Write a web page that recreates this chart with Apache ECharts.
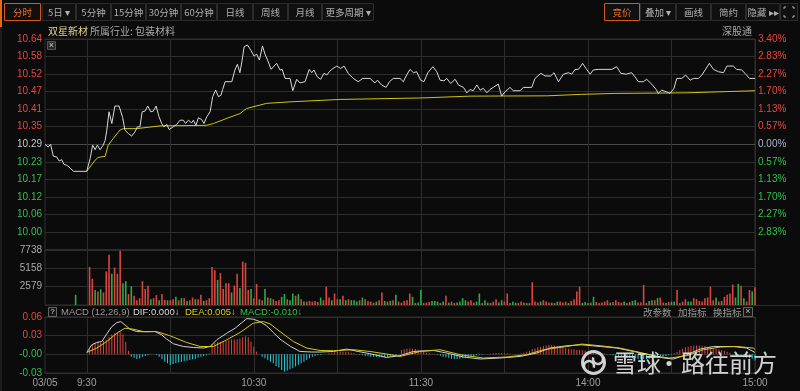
<!DOCTYPE html>
<html><head><meta charset="utf-8">
<script src="https://cdn.jsdelivr.net/npm/echarts@6/dist/echarts.min.js"></script>
<style>html,body{margin:0;padding:0;background:#0b0b0b;}#c{width:800px;height:391px;}</style>
</head><body><div id="c"></div>
<script>
// ---------- data ----------
const basePrice = 10.29;
const priceStep = 0.35 / 6;
const priceTicks = ['', '10.00', '10.06', '10.12', '10.17', '10.23', '10.29', '10.35', '10.41', '10.47', '10.52', '10.58', '10.64'];
const pctTicks = ['', '2.83%', '2.27%', '1.70%', '1.13%', '0.57%', '0.00%', '0.57%', '1.13%', '1.70%', '2.27%', '2.83%', '3.40%'];
const volTicks = ['', '2579', '5158', '7738'];
const macdTicks = ['-0.03', '-0.00', '0.03', '0.06'];
const timeTickAt = [-15, 0, 60, 120, 180, 240];
const timeTickText = ['03/05', '9:30', '10:30', '11:30', '14:00', '15:00'];

// [minutes from 9:30, price]
const pricePts = [[-15,10.289],[-13.8,10.281],[-13,10.290],[-12,10.250],[-10.8,10.248],[-9.9,10.234],[-9,10.239],[-8.2,10.223],[-7.2,10.220],[-6,10.212],[-4.8,10.200],[0,10.200],
[1.2,10.242],[2.1,10.287],[3,10.272],[3.8,10.287],[4.8,10.272],[5.9,10.287],[6.6,10.303],[7.2,10.337],[8,10.398],[9,10.359],[10.1,10.417],[11.6,10.417],[12.9,10.379],[13.7,10.337],[14.9,10.326],[16.1,10.317],[17.3,10.331],[18.2,10.348],[19.1,10.348],[19.9,10.398],[20.9,10.400],[21.9,10.417],[23,10.398],[23.9,10.400],[24.9,10.417],[25.9,10.383],[26.9,10.359],[27.7,10.348],[28.7,10.356],[29.6,10.339],[31.1,10.348],[32.3,10.356],[33.5,10.370],[34.7,10.370],[35.5,10.359],[36.5,10.370],[37.7,10.361],[38.3,10.370],[39.2,10.353],[40.1,10.378],[41.3,10.372],[42.1,10.359],[43.1,10.381],[44.3,10.398],[45.2,10.448],[46.3,10.470],[47.3,10.448],[48.2,10.453],[48.8,10.472],[49.7,10.498],[52.1,10.498],[53.2,10.537],[54.1,10.556],[55,10.528],[55.7,10.564],[56.5,10.614],[57.7,10.620],[58.9,10.603],[60.1,10.583],[61,10.590],[62,10.570],[63.1,10.617],[64,10.590],[65.2,10.564],[66.2,10.539],[68.2,10.559],[69.4,10.537],[70.2,10.539],[71.2,10.509],[73,10.509],[74,10.468],[75.4,10.506],[76.6,10.494],[78.4,10.498],[79.9,10.539],[80.8,10.528],[81.6,10.537],[82.8,10.514],[84,10.506],[85.2,10.526],[86.2,10.520],[87.1,10.531],[88,10.539],[89.8,10.550],[91.2,10.542],[92.4,10.550],[93.9,10.526],[95.7,10.509],[97.5,10.498],[99.1,10.509],[101.7,10.509],[103.5,10.494],[104.4,10.503],[105.9,10.487],[107.5,10.479],[108.7,10.498],[110.1,10.509],[112.5,10.509],[113.7,10.498],[114.7,10.517],[116.1,10.539],[117.3,10.528],[118.5,10.531],[119.9,10.503],[121.1,10.498],[122.5,10.528],[124.3,10.548],[125.7,10.531],[126.9,10.503],[128.3,10.501],[129.3,10.509],[130.7,10.492],[132.3,10.506],[133.5,10.487],[135.3,10.479],[136.5,10.461],[137.7,10.472],[138.8,10.468],[140.1,10.487],[141.3,10.470],[142.4,10.476],[143.7,10.461],[144.8,10.472],[146,10.479],[147.8,10.490],[149,10.450],[150.2,10.464],[152,10.479],[153.2,10.468],[155.6,10.468],[156.8,10.479],[159.8,10.479],[161,10.509],[163.1,10.526],[164.6,10.517],[166.6,10.517],[167.8,10.528],[169.4,10.498],[171.2,10.523],[173,10.528],[174.2,10.523],[175.4,10.539],[176.6,10.539],[178.1,10.559],[179.3,10.542],[180.8,10.523],[181.9,10.537],[183.7,10.539],[188.6,10.539],[190.3,10.548],[191.8,10.526],[193.7,10.523],[195.7,10.528],[196.9,10.514],[198.1,10.498],[199.9,10.498],[201.1,10.506],[202.9,10.490],[204.5,10.472],[205.3,10.459],[206.5,10.470],[208.3,10.464],[209.5,10.459],[210.9,10.476],[211.9,10.509],[213.7,10.509],[215.1,10.520],[216.7,10.503],[217.9,10.509],[219.7,10.509],[220.9,10.520],[222.1,10.537],[223.6,10.559],[225.1,10.539],[226.9,10.531],[228.7,10.528],[229.9,10.550],[232.2,10.550],[233.4,10.539],[235.2,10.537],[236.4,10.526],[238,10.509],[240,10.509]];

const avgPts = [[0,10.200],[3,10.237],[4.1,10.246],[6.6,10.250],[7.7,10.287],[9.5,10.309],[11.9,10.337],[13.1,10.342],[17.9,10.342],[26.3,10.351],[43.1,10.353],[45.5,10.359],[50.3,10.376],[55,10.392],[57.4,10.409],[64.6,10.426],[73,10.431],[91,10.439],[120.3,10.444],[137.7,10.450],[165.2,10.451],[177.8,10.456],[189.7,10.459],[215.5,10.461],[240,10.468]];

// auction volume (9:26)
const preVol = [[-4, 1433]];
// volume per minute, minutes 1..240 after 9:30
const vol = [5354,3681,2103,1912,2199,1769,4732,7074,4398,5258,
4398,7648,3059,3346,1530,2629,1291,669,956,3346,
2247,2725,813,956,1386,669,1530,717,669,669,
813,1147,669,956,956,574,669,1052,813,813,
1434,574,669,956,5354,4876,3537,4493,2247,3059,
3059,1769,2725,4398,2390,6118,5927,2103,2247,956,
2964,813,669,2247,1052,956,813,574,669,1147,
1530,813,669,1625,1291,1530,813,478,478,574,
478,574,430,1052,669,2581,1052,669,1625,813,
813,1291,669,813,669,669,478,669,1052,813,
574,478,335,478,669,1769,574,478,574,669,
1434,478,
335,574,669,1625,1147,287,335,2103,287,335,
430,574,574,478,287,478,1291,335,478,287,
335,478,956,669,478,669,335,478,1625,287,
669,335,287,478,813,335,669,478,1625,287,
478,335,287,478,335,287,287,3203,478,335,
478,669,478,335,335,287,478,478,335,478,
287,574,813,1912,2581,287,430,287,335,1147,
430,287,335,478,669,335,430,669,430,335,
478,287,430,574,669,335,335,2820,287,574,
669,669,956,1052,335,287,430,478,478,2103,
287,478,813,478,478,956,813,574,478,956,
1052,2581,669,1052,478,574,1147,1434,1625,2868,
1052,2964,2725,956,478,2103,1912,2486];
// R = up minute, G = down minute
const volDir = 'RRGRGRRRGR' + 'RRGGRGRRRR' + 'RRGRRGRRGR' + 'RGRGRGRRGR' + 'RGRRRRGRRR' + 'RGRRGRRRGR' +
  'RGRGRGRRRG' + 'GRGGRGRGRR' + 'RRRGRRRGRR' + 'GRGRGGGRGR' + 'RRRGRRGRGR' + 'GR' +
  'RRRRGRGGRR' + 'RGGGRGRGRR' + 'GGGGRRRGGR' + 'GGRRRGGRRR' + 'GGRRRGRRRR' + 'GRRRGRGRRR' +
  'GRRRRGGRGG' + 'RRRRRGRRRR' + 'GRRGGRRRRG' + 'GRGRRGRGGR' + 'RRRGGRRRRR' + 'RRRGRGRRRR' + 'GGRGRRGR';

// MACD histogram per minute, minutes 1..240
const macdHist = [0.0080,0.0150,0.0188,0.0202,0.0188,0.0216,0.0240,0.0282,0.0320,0.0338,
0.0348,0.0362,0.0324,0.0202,0.0056,-0.0038,-0.0054,-0.0075,-0.0066,-0.0038,
-0.0028,-0.0016,0.0009,0.0005,-0.0009,-0.0038,-0.0080,-0.0118,-0.0144,-0.0169,
-0.0154,-0.0144,-0.0132,-0.0122,-0.0113,-0.0103,-0.0090,-0.0080,-0.0070,-0.0054,
-0.0038,-0.0028,-0.0016,0.0016,0.0165,0.0188,0.0197,0.0202,0.0207,0.0216,
0.0226,0.0240,0.0240,0.0240,0.0254,0.0273,0.0291,0.0273,0.0202,0.0122,
0.0042,0.0005,-0.0038,-0.0064,-0.0090,-0.0118,-0.0144,-0.0186,-0.0213,-0.0250,
-0.0277,-0.0261,-0.0240,-0.0224,-0.0197,-0.0169,-0.0144,-0.0118,-0.0090,-0.0064,
-0.0038,-0.0028,-0.0016,-0.0009,0,0.0005,0.0016,0.0026,0.0032,0.0042,
0.0047,0.0042,0.0038,0.0032,0.0026,0.0016,0.0005,-0.0006,-0.0016,-0.0028,
-0.0032,-0.0038,-0.0038,-0.0042,-0.0047,-0.0047,-0.0047,-0.0042,-0.0038,-0.0028,
-0.0016,0.0005,0.0070,0.0080,0.0090,0.0094,0.0090,0.0085,0.0075,0.0064,
0.0042,0.0026,0.0016,0.0010,0.0006,-0.0006,-0.0022,-0.0038,-0.0047,-0.0056,
-0.0070,-0.0075,-0.0075,-0.0070,-0.0064,-0.0056,-0.0047,-0.0038,-0.0028,-0.0016,
-0.0009,-0.0006,0,0.0006,0.0010,0.0016,0.0022,0.0022,0.0022,0.0016,
0.0016,0.0010,0.0006,0.0006,0.0010,0.0016,0.0026,0.0042,0.0056,0.0080,
0.0094,0.0113,0.0122,0.0132,0.0141,0.0150,0.0150,0.0141,0.0132,0.0122,
0.0113,0.0103,0.0090,0.0080,0.0080,0.0070,0.0070,0.0064,0.0056,0.0047,
0.0042,0.0038,0.0032,0.0026,0.0022,0.0016,0.0006,-0.0006,-0.0016,-0.0028,
-0.0038,-0.0042,-0.0047,-0.0054,-0.0056,-0.0064,-0.0064,-0.0070,-0.0070,-0.0075,
-0.0075,-0.0070,-0.0064,-0.0056,-0.0054,-0.0047,-0.0038,-0.0028,-0.0016,-0.0006,
0.0016,0.0038,0.0070,0.0090,0.0113,0.0122,0.0132,0.0138,0.0141,0.0141,
0.0138,0.0132,0.0122,0.0113,0.0103,0.0090,0.0080,0.0070,0.0056,0.0042,
0.0026,0.0006,-0.0009,-0.0028,-0.0038,-0.0047,-0.0056,-0.0064,-0.0070,-0.0100];

const difPts = [[0,0.003],[1.8,0.0154],[3.6,0.019],[5.4,0.0206],[7.2,0.033],[9,0.0446],[10.8,0.051],[12.2,0.0526],[13.7,0.0474],[15.5,0.0405],[17.9,0.0366],[21.5,0.0362],[24.5,0.0366],[26.9,0.0314],[28.7,0.0245],[31.1,0.017],[34.7,0.0126],[38.3,0.011],[41.9,0.0101],[44.3,0.0126],[46.7,0.0234],[50.3,0.034],[53.3,0.042],[55.7,0.051],[57.5,0.0574],[59.8,0.0565],[62.2,0.0526],[64.6,0.0458],[67,0.035],[69.4,0.0245],[73.2,0.0126],[76.6,0.0046],[80.8,0.0037],[83.8,0.0037],[88.6,0.0046],[93.4,0.0085],[97.5,0.0046],[101.7,0.001],[107.7,-0.005],[112.5,-0.0022],[117.3,0.0046],[124.5,0.0062],[129.3,0.0021],[135.3,-0.0043],[141.3,-0.0075],[148.4,-0.0059],[155.6,-0.0034],[161.6,0.0021],[166.4,0.0101],[172.4,0.0138],[177.8,0.0154],[184.4,0.0126],[190.4,0.0101],[196.3,0.0046],[202.3,-0.0006],[207.1,-0.0059],[210.7,-0.0075],[215.5,-0.0006],[220.3,0.0085],[225.1,0.0126],[232.2,0.0126],[237,0.0101],[240,0.003]];

const deaPts = [[0,0.003],[3.6,0.0101],[7.2,0.0206],[10.8,0.034],[13.7,0.042],[16.7,0.0405],[20.3,0.0366],[25.1,0.0366],[29.9,0.0298],[35.9,0.019],[40.7,0.0126],[45.5,0.0126],[50.3,0.0234],[55,0.035],[59.8,0.05],[63.4,0.0526],[65.8,0.049],[69.4,0.0366],[74.2,0.0206],[79,0.0101],[83.8,0.0062],[88.6,0.0058],[95.8,0.0074],[101.7,0.0046],[107.7,0.0005],[112.5,-0.0034],[119.7,0.0046],[126.9,0.0074],[134.1,-0.0006],[142.4,-0.0059],[150.8,-0.0043],[158,-0.0006],[164,0.0074],[172.4,0.0126],[177.8,0.0165],[184.4,0.0138],[191.5,0.0101],[198.7,0.003],[204.7,-0.0034],[209.5,-0.0059],[215.5,-0.0022],[221.5,0.0074],[227.5,0.0117],[233.5,0.0126],[239.4,0.0101],[240,0.008]];

// ---------- chart ----------
const RED = '#e8473f', GREEN = '#2fc24a';
const VRED = '#d9463e', VGREEN = '#27ae4a';
const GL = '#2d2d2d';
const NUMF = '"Liberation Sans", Arial, sans-serif';
const CJK = '"Noto Sans CJK SC", sans-serif';

const chart = echarts.init(document.getElementById('c'), null, {renderer: 'canvas'});

function xAxisFor(gi, showLabel) {
  return {
    type: 'value', gridIndex: gi, min: -15, max: 240, interval: 15,
    axisLine: {show: false}, axisTick: {show: false},
    axisLabel: {
      show: showLabel, margin: 5, color: '#a0a0a0', fontSize: 10, fontFamily: NUMF,
      formatter: v => { const i = timeTickAt.indexOf(Math.round(v)); return i >= 0 ? timeTickText[i] : ''; }
    },
    splitLine: {show: true, lineStyle: {color: ['rgba(0,0,0,0)', GL], width: 1}}
  };
}

const mainSplitColors = [];
for (let i = 0; i <= 12; i++) mainSplitColors.push(i === 6 ? '#4a4a4a' : GL);

const volData = preVol.map(([t, v]) => ({value: [t, v], itemStyle: {color: VGREEN}}))
  .concat(vol.map((v, i) => ({value: [i + 1, v], itemStyle: {color: volDir[i] === 'R' ? VRED : VGREEN}})));
const histData = macdHist.map((h, i) => ({value: [i + 1, h], itemStyle: {color: h >= 0 ? '#e0453e' : '#28ccd8'}}));
const toStep = p => (p - basePrice) / priceStep;

// ---------- decorations ----------
const g = [];
function txt(text, x, y, fill, size, font, align) {
  g.push({type: 'text', silent: true, z: 100, style: {text, x, y, fill, fontSize: size, fontFamily: font || CJK,
    align: align || 'left', verticalAlign: 'middle', textAlign: align || 'left', textVerticalAlign: 'middle'}});
}
function rect(x, y, w, h, fill, stroke) {
  g.push({type: 'rect', silent: true, z: 99, shape: {x, y, width: w, height: h}, style: {fill, stroke, lineWidth: 1}});
}
function line(x1, y1, x2, y2, stroke, w) {
  g.push({type: 'line', silent: true, z: 99, shape: {x1, y1, x2, y2}, style: {stroke, lineWidth: w || 1}});
}
// left orange strip
rect(0, 0, 2, 27, '#e06a1c', null);
line(1, 27, 1, 391, '#1c1c1c', 2);
// toolbar left
const leftBtns = [['分时', 4.5, 36, true], ['5日 ▾', 42.5, 33], ['5分钟', 76.5, 34], ['15分钟', 111.5, 34], ['30分钟', 146.5, 34],
  ['60分钟', 181.5, 35], ['日线', 217.5, 35], ['周线', 253.5, 34], ['月线', 288.5, 33], ['更多周期 ▾', 322.5, 51]];
leftBtns.forEach(([t, x, w, act]) => {
  rect(x, 3.5, w, 17, '#101010', act ? '#d2581e' : '#2c2c2c');
  txt(t, x + w / 2, 12.5, act ? '#f0702c' : '#b0b0b0', 9.5, CJK, 'center');
});
const rightBtns = [['竞价', 604.5, 35, true], ['叠加 ▾', 640.5, 35], ['画线', 676.5, 34], ['简约', 711.5, 34], ['隐藏 ▸▸', 746.5, 33]];
rightBtns.forEach(([t, x, w, act]) => {
  rect(x, 3.5, w, 17, '#101010', act ? '#d2581e' : '#2c2c2c');
  txt(t, x + w / 2, 12.5, act ? '#f0702c' : '#b0b0b0', 9.5, CJK, 'center');
});
rect(780.5, 3.5, 17, 17, '#101010', '#2c2c2c');
[[784, 9, 784, 7, 786, 7], [794, 9, 794, 7, 792, 7], [784, 15, 784, 17, 786, 17], [794, 15, 794, 17, 792, 17]].forEach(p => {
  g.push({type: 'polyline', silent: true, z: 100, shape: {points: [[p[0], p[1]], [p[2], p[3]], [p[4], p[5]]]}, style: {stroke: '#b0b0b0', lineWidth: 1, fill: null}});
});
// stock title row
txt('双星新材', 48, 31, '#dcd490', 10);
txt('所属行业: 包装材料', 90, 31, '#a8a8a8', 10);
txt('深股通', 752, 31, '#a8a8a8', 10, CJK, 'right');
// close box in main chart
rect(47.5, 41.5, 8, 8, '#2a2a2a', '#555');
txt('×', 51.5, 45.5, '#cfcfcf', 9, NUMF, 'center');
// MACD header
line(45, 305.5, 800, 305.5, '#2c2c2c', 1);
rect(48.5, 307.5, 8, 9, '#151515', '#666');
txt('?', 52.5, 312, '#cfcfcf', 8, NUMF, 'center');
txt('MACD (12,26,9)', 61, 312, '#9a9a9a', 9.5, NUMF);
txt('DIF:0.000↓', 133, 312, '#dadada', 9.5, NUMF);
txt('DEA:0.005↓', 185, 312, '#d8cc10', 9.5, NUMF);
txt('MACD:-0.010↓', 240, 312, GREEN, 9.5, NUMF);
txt('改参数', 643, 312, '#9a9a9a', 9.5);
txt('加指标', 678, 312, '#9a9a9a', 9.5);
txt('换指标', 713, 312, '#9a9a9a', 9.5);
rect(743.5, 307.5, 9, 9, '#151515', '#666');
txt('×', 748, 312, '#bbbbbb', 9, NUMF, 'center');
// watermark
g.push({type: 'circle', silent: true, z: 101, shape: {cx: 593.5, cy: 362.5, r: 11}, style: {fill: 'none', stroke: '#e2e2e2', lineWidth: 3, opacity: 0.92}});
g.push({type: 'arc', silent: true, z: 101, shape: {cx: 589, cy: 366, r: 5, startAngle: Math.PI * 0.9, endAngle: Math.PI * 2.1}, style: {stroke: '#e2e2e2', lineWidth: 2.5, fill: null, opacity: 0.92}});
g.push({type: 'arc', silent: true, z: 101, shape: {cx: 598, cy: 359, r: 5, startAngle: -Math.PI * 0.1, endAngle: Math.PI * 1.1}, style: {stroke: '#e2e2e2', lineWidth: 2.5, fill: null, opacity: 0.92}});
g.push({type: 'text', silent: true, z: 101, style: {text: '雪球', x: 613, y: 362.5, fill: '#e2e2e2', opacity: 0.92, fontSize: 24, fontFamily: CJK, align: 'left', verticalAlign: 'middle', textAlign: 'left', textVerticalAlign: 'middle'}});
g.push({type: 'text', silent: true, z: 101, style: {text: '·', x: 669, y: 362.5, fill: '#e2e2e2', opacity: 0.92, fontSize: 24, fontFamily: CJK, align: 'center', verticalAlign: 'middle', textAlign: 'center', textVerticalAlign: 'middle'}});
g.push({type: 'text', silent: true, z: 101, style: {text: '路往前方', x: 681, y: 362.5, fill: '#e2e2e2', opacity: 0.92, fontSize: 24, fontFamily: CJK, align: 'left', verticalAlign: 'middle', textAlign: 'left', textVerticalAlign: 'middle'}});

const gridBase = {left: 45, right: 45, show: true, borderColor: '#303030', borderWidth: 1, backgroundColor: 'transparent'};

chart.setOption({
  backgroundColor: '#0b0b0b',
  animation: false,
  grid: [
    Object.assign({top: 39, height: 210.5}, gridBase),
    Object.assign({top: 250, height: 55}, gridBase),
    Object.assign({top: 317, height: 56}, gridBase)
  ],
  xAxis: [xAxisFor(0, false), xAxisFor(1, false), xAxisFor(2, true)],
  yAxis: [
    {type: 'value', gridIndex: 0, position: 'left', min: -6, max: 6, interval: 1,
      axisLine: {show: false}, axisTick: {show: false},
      axisLabel: {margin: 3, fontSize: 10, fontFamily: NUMF, formatter: v => priceTicks[Math.round(v) + 6] || '',
        color: v => (Number(v) > 0.5 ? RED : Number(v) < -0.5 ? GREEN : '#c8c8c8')},
      splitLine: {show: true, lineStyle: {color: mainSplitColors, width: 1}}},
    {type: 'value', gridIndex: 0, position: 'right', min: -6, max: 6, interval: 1,
      axisLine: {show: false}, axisTick: {show: false},
      axisLabel: {margin: 3, fontSize: 10, fontFamily: NUMF, formatter: v => pctTicks[Math.round(v) + 6] || '',
        color: v => (Number(v) > 0.5 ? RED : Number(v) < -0.5 ? GREEN : '#aab4cc')},
      splitLine: {show: false}},
    {type: 'value', gridIndex: 1, position: 'left', min: 0, max: 7737, interval: 2579,
      axisLine: {show: false}, axisTick: {show: false},
      axisLabel: {margin: 3, fontSize: 10, fontFamily: NUMF, color: '#a9a9a9', formatter: v => volTicks[Math.round(v / 2579)] || ''},
      splitLine: {show: true, lineStyle: {color: GL, width: 1}}},
    {type: 'value', gridIndex: 2, position: 'left', min: -0.03, max: 0.06, interval: 0.03,
      axisLine: {show: false}, axisTick: {show: false},
      axisLabel: {margin: 3, fontSize: 10, fontFamily: NUMF, formatter: v => macdTicks[Math.round(v / 0.03) + 1] || '',
        color: v => (Number(v) > 0.001 ? RED : GREEN)},
      splitLine: {show: true, lineStyle: {color: GL, width: 1}}}
  ],
  series: [
    {name: 'price', type: 'line', xAxisIndex: 0, yAxisIndex: 0, showSymbol: false, symbol: 'none',
      data: pricePts.map(([t, p]) => [t, toStep(p)]), lineStyle: {color: '#d8d8d8', width: 1}, z: 5},
    {name: 'avg', type: 'line', xAxisIndex: 0, yAxisIndex: 0, showSymbol: false, symbol: 'none',
      data: avgPts.map(([t, p]) => [t, toStep(p)]), lineStyle: {color: '#cdc40e', width: 1}, z: 4},
    {name: 'vol', type: 'bar', xAxisIndex: 1, yAxisIndex: 2, barWidth: 1.6, data: volData},
    {name: 'macd', type: 'bar', xAxisIndex: 2, yAxisIndex: 3, barWidth: 1, data: histData, clip: false},
    {name: 'dif', type: 'line', xAxisIndex: 2, yAxisIndex: 3, showSymbol: false, symbol: 'none',
      data: difPts, lineStyle: {color: '#d0d0d0', width: 1}, z: 5},
    {name: 'dea', type: 'line', xAxisIndex: 2, yAxisIndex: 3, showSymbol: false, symbol: 'none',
      data: deaPts, lineStyle: {color: '#d6c816', width: 1}, z: 5}
  ],
  graphic: {elements: g}
});
</script>
</body></html>
